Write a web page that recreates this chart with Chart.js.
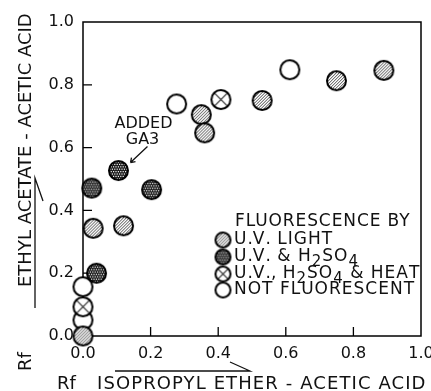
<!DOCTYPE html>
<html>
<head>
<meta charset="utf-8">
<script src="https://cdn.jsdelivr.net/npm/chart.js@4.4.0/dist/chart.umd.min.js"></script>
<style>
  html, body { margin: 0; padding: 0; background: #fff; }
</style>
</head>
<body>
<canvas id="myChart" width="431" height="391"></canvas>
<script>
// values
const seriesNames = ["U.V. LIGHT", "U.V. & H2SO4", "U.V., H2SO4 & HEAT", "NOT FLUORESCENT"];
const uvLightX = [0.35, 0.36, 0.53, 0.75, 0.89, 0.03, 0.12, 0.0];
const uvLightY = [0.705, 0.647, 0.75, 0.813, 0.846, 0.343, 0.351, 0.0];
const uvAcidX = [0.105, 0.026, 0.203, 0.04];
const uvAcidY = [0.527, 0.471, 0.466, 0.2];
const uvAcidHeatX = [0.408, 0.0];
const uvAcidHeatY = [0.753, 0.093];
const notFluorX = [0.277, 0.612, 0.0, 0.0];
const notFluorY = [0.739, 0.848, 0.157, 0.051];
const xTicks = [0, 0.2, 0.4, 0.6, 0.8, 1.0];
const yTicks = [0, 0.2, 0.4, 0.6, 0.8, 1.0];
const addedGA3 = [0.105, 0.527];

const FONT = "'DejaVu Sans', sans-serif";
Chart.defaults.font.family = FONT;
Chart.defaults.color = "#111";

// marker pictures: hatched, stippled, crossed, open
function markerImage(kind, r) {
  const s = Math.ceil(2 * r + 4);
  const c = document.createElement("canvas");
  c.width = s;
  c.height = s;
  const g = c.getContext("2d");
  const m = s / 2;
  g.beginPath();
  g.arc(m, m, r, 0, Math.PI * 2);
  g.fillStyle = "#fff";
  g.fill();
  g.save();
  g.clip();
  if (kind === "hatch") {
    g.strokeStyle = "#333";
    g.lineWidth = 0.9;
    for (let k = -s; k < 2 * s; k += 3) {
      g.beginPath();
      g.moveTo(k, s);
      g.lineTo(k + s, 0);
      g.stroke();
    }
  } else if (kind === "dots") {
    g.fillStyle = "#1a1a1a";
    g.fillRect(0, 0, s, s);
    g.fillStyle = "#fff";
    let row = 0;
    for (let yy = 0; yy < s; yy += 2.4, row++) {
      for (let xx = (row % 2) * 1.2; xx < s; xx += 2.4) g.fillRect(xx, yy, 1.2, 1.2);
    }
  } else if (kind === "cross") {
    const d = r * 0.72;
    g.strokeStyle = "#222";
    g.lineWidth = 1.1;
    g.beginPath();
    g.moveTo(m - d, m - d);
    g.lineTo(m + d, m + d);
    g.moveTo(m + d, m - d);
    g.lineTo(m - d, m + d);
    g.stroke();
  }
  g.restore();
  g.beginPath();
  g.arc(m, m, r, 0, Math.PI * 2);
  g.lineWidth = 2;
  g.strokeStyle = "#000";
  g.stroke();
  return c;
}

const kinds = ["hatch", "dots", "cross", "open"];
const pointImgs = kinds.map((k) => markerImage(k, 9.5));
const legendImgs = kinds.map((k) => markerImage(k, 7.5));

const toPoints = (xs, ys) => xs.map((x, i) => ({ x: x, y: ys[i] }));

function spacedText(ctx, text, x, y, spacing) {
  ctx.letterSpacing = spacing + "px";
  ctx.fillText(text, x, y);
  ctx.letterSpacing = "0px";
}

// legend labels: digits are written as subscripts
function labelWithSubs(ctx, text, x, y) {
  let cx = x;
  for (const ch of text) {
    const sub = /[0-9]/.test(ch);
    ctx.font = sub ? "15px " + FONT : "17px " + FONT;
    ctx.fillText(ch, cx, sub ? y + 5 : y);
    cx += ctx.measureText(ch).width + (ch === "." || ch === "," ? 0 : 1);
  }
}

const decorations = {
  id: "decorations",
  beforeDatasetsDraw(chart) {
    const { ctx, chartArea: a, scales } = chart;
    ctx.save();
    ctx.strokeStyle = "#000";
    ctx.lineWidth = 1.5;
    ctx.strokeRect(a.left, a.top, a.right - a.left, a.bottom - a.top);
    ctx.lineWidth = 1.3;
    ctx.beginPath();
    yTicks.slice(1, -1).forEach((v) => {
      const p = scales.y.getPixelForValue(v);
      ctx.moveTo(a.left, p);
      ctx.lineTo(a.left + 9, p);
    });
    xTicks.slice(1, -1).forEach((v) => {
      const p = scales.x.getPixelForValue(v);
      ctx.moveTo(p, a.bottom);
      ctx.lineTo(p, a.bottom - 9);
    });
    ctx.stroke();
    ctx.restore();
  },
  afterDraw(chart) {
    const { ctx, scales } = chart;
    ctx.save();
    ctx.fillStyle = "#111";
    ctx.strokeStyle = "#111";
    ctx.lineWidth = 1.3;
    ctx.textBaseline = "middle";
    ctx.textAlign = "left";

    // y axis title
    ctx.save();
    ctx.translate(26, 371);
    ctx.rotate(-Math.PI / 2);
    ctx.font = "18px " + FONT;
    ctx.fillText("Rf", 0, 0);
    ctx.fillText("ETHYL ACETATE - ACETIC ACID", 84, 0);
    ctx.restore();
    ctx.beginPath();
    ctx.moveTo(35, 308);
    ctx.lineTo(35, 178);
    ctx.lineTo(43, 201);
    ctx.stroke();

    // x axis title
    ctx.font = "18px " + FONT;
    ctx.fillText("Rf", 57, 384);
    spacedText(ctx, "ISOPROPYL ETHER - ACETIC ACID", 97, 384, 1.1);
    ctx.beginPath();
    ctx.moveTo(115, 371);
    ctx.lineTo(250, 371);
    ctx.lineTo(230, 362);
    ctx.stroke();

    // note on the GA3 spot
    const gx = scales.x.getPixelForValue(addedGA3[0]);
    const gy = scales.y.getPixelForValue(addedGA3[1]);
    ctx.font = "16px " + FONT;
    ctx.textAlign = "center";
    ctx.fillText("ADDED", gx + 25, gy - 47);
    ctx.fillText("GA3", gx + 24, gy - 31);
    const tx = gx + 12, ty = gy - 8;
    ctx.beginPath();
    ctx.moveTo(gx + 29, gy - 24);
    ctx.lineTo(tx, ty);
    ctx.moveTo(tx, ty);
    ctx.lineTo(tx + 1, ty - 5);
    ctx.moveTo(tx, ty);
    ctx.lineTo(tx + 5, ty - 1);
    ctx.stroke();

    // legend inside the plot
    ctx.textAlign = "left";
    ctx.font = "17px " + FONT;
    spacedText(ctx, "FLUORESCENCE BY", 235, 222, 0.9);
    const rows = [240, 257, 274, 290];
    chart.data.datasets.forEach((ds, i) => {
      const img = legendImgs[i];
      ctx.drawImage(img, 223 - img.width / 2, rows[i] - img.height / 2);
      labelWithSubs(ctx, ds.label, 234, rows[i]);
    });
    ctx.restore();
  },
};

const ctx = document.getElementById("myChart");

new Chart(ctx, {
  type: "scatter",
  data: {
    datasets: [
      { label: seriesNames[0], data: toPoints(uvLightX, uvLightY), pointStyle: pointImgs[0] },
      { label: seriesNames[1], data: toPoints(uvAcidX, uvAcidY), pointStyle: pointImgs[1] },
      { label: seriesNames[2], data: toPoints(uvAcidHeatX, uvAcidHeatY), pointStyle: pointImgs[2] },
      { label: seriesNames[3], data: toPoints(notFluorX, notFluorY), pointStyle: pointImgs[3] },
    ],
  },
  options: {
    responsive: false,
    animation: false,
    events: [],
    clip: false,
    layout: { padding: { left: 0, top: 22, right: 10, bottom: 0 } },
    plugins: { legend: { display: false }, tooltip: { enabled: false } },
    scales: {
      x: {
        type: "linear",
        min: 0,
        max: 1,
        afterBuildTicks: (s) => { s.ticks = xTicks.map((v) => ({ value: v })); },
        ticks: { callback: (v) => v.toFixed(1), font: { size: 16 }, color: "#111", padding: 8, maxRotation: 0, autoSkip: false },
        grid: { display: false, drawTicks: false },
        border: { display: false },
        afterFit: (s) => { s.height = 55; s.paddingLeft = 0; s.paddingRight = 0; },
      },
      y: {
        type: "linear",
        min: 0,
        max: 1,
        afterBuildTicks: (s) => { s.ticks = yTicks.map((v) => ({ value: v })); },
        ticks: { callback: (v) => v.toFixed(1), font: { size: 16 }, color: "#111", padding: 9, autoSkip: false },
        grid: { display: false, drawTicks: false },
        border: { display: false },
        afterFit: (s) => { s.width = 83; s.paddingTop = 0; s.paddingBottom = 0; },
      },
    },
  },
  plugins: [decorations],
});
</script>
</body>
</html>
